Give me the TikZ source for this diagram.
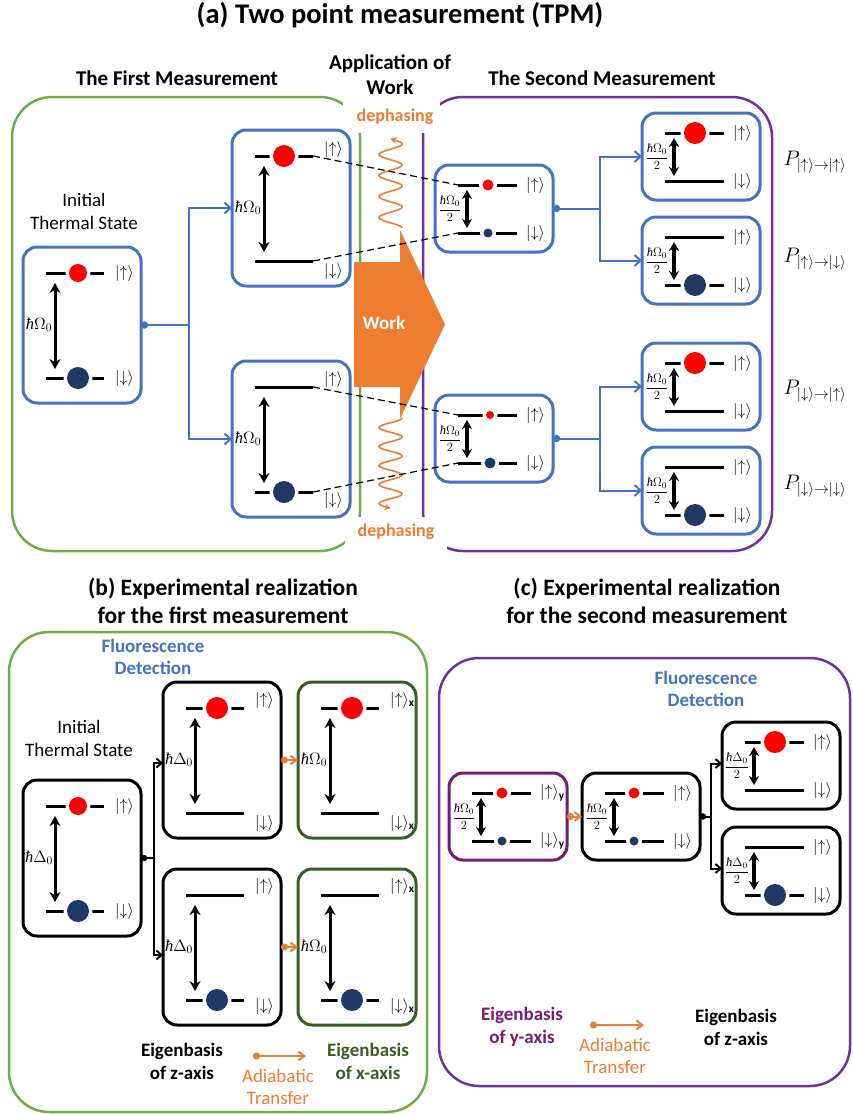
\documentclass[tikz,border=0pt]{standalone}
\usepackage{fix-cm}
\usepackage{amsmath}
\usepackage{fontspec}
\setmainfont{Carlito}
\newfontfamily\hbfont{Liberation Serif}
\usetikzlibrary{arrows.meta,calc}
\definecolor{blueC}{HTML}{4472C4}
\definecolor{greenC}{HTML}{70AD47}
\definecolor{purpleC}{HTML}{7030A0}
\definecolor{orangeC}{HTML}{ED7D31}
\definecolor{dgreenC}{HTML}{3B5D22}
\definecolor{ypurpleC}{HTML}{761B76}
\definecolor{redC}{HTML}{FF0000}
\definecolor{navyC}{HTML}{1F3864}
\tikzset{
  boxbase/.style={line width=3pt, rounded corners=14pt, anchor=north west, outer sep=0pt, inner sep=0pt},
  bbox/.style={boxbase, draw=blueC},
  kbox/.style={boxbase, draw=black},
  gbox/.style={boxbase, draw=dgreenC},
  ybox/.style={boxbase, draw=ypurpleC},
  bigsize/.style={minimum width=118pt, minimum height=156pt},
  smallsize/.style={minimum width=118pt, minimum height=87pt},
  lvl/.style={line width=3pt},
  earr/.style={line width=3pt, {Stealth[length=10pt,width=11pt]}-{Stealth[length=10pt,width=11pt]}},
  earrs/.style={line width=3.2pt, {Stealth[length=9pt,width=10pt]}-{Stealth[length=9pt,width=10pt]}},
  elab/.style={font=\fontsize{16.5}{18}\selectfont, inner sep=0pt},
  flab/.style={font=\fontsize{12.5}{13}\selectfont, inner sep=0pt},
  klab/.style={font=\fontsize{16}{18}\selectfont, inner sep=0pt, anchor=west},
  plab/.style={font=\fontsize{21}{24}\selectfont, inner sep=0pt},
  bconn/.style={draw=blueC, line width=2pt, {Circle[length=7pt]}-{Straight Barb[length=6pt,width=11pt]}},
  kconn/.style={draw=black, line width=2pt, {Circle[length=6pt]}-{Straight Barb[length=5pt,width=9pt]}},
  oconn/.style={draw=orangeC, line width=2pt, {Circle[length=7pt]}-{Straight Barb[length=6pt,width=9pt]}},
  dsh/.style={black, line width=1.2pt, dash pattern=on 7pt off 4pt},
  ttl/.style={font=\fontsize{28.5}{32}\selectfont\bfseries, inner sep=0pt},
  ttlb/.style={font=\fontsize{23.5}{28}\selectfont\bfseries, align=center, inner sep=0pt},
  hd/.style={font=\fontsize{21}{25}\selectfont\bfseries, align=center, inner sep=0pt},
  txt/.style={font=\fontsize{19}{23}\selectfont, align=center, inner sep=0pt},
  fl/.style={font=\fontsize{19}{22}\selectfont\bfseries, text=blueC, align=center, inner sep=0pt},
  kb/.style={font=\fontsize{19}{23}\selectfont\bfseries, align=center, inner sep=0pt},
  gb/.style={kb, text=dgreenC},
  yb/.style={kb, text=ypurpleC},
  otx/.style={font=\fontsize{19}{21.5}\selectfont, text=orangeC, align=center, inner sep=0pt},
  dph/.style={font=\fontsize{18}{20}\selectfont\bfseries, text=orangeC, inner sep=0pt},
}
\newcommand\HB{\text{\hbfont\itshape ħ}}
\newcommand\BigIn[6]{%
  \draw[lvl] (23,26) -- (81,26);
  \draw[lvl] (23,131) -- (81,131);
  \coordinate (#1ul) at (23,26); \coordinate (#1ur) at (81,26);
  \coordinate (#1dl) at (23,131); \coordinate (#1dr) at (81,131);
  \draw[earr] (32,36) -- (32,122);
  \node[elab] (#1e) at (16,78) {#2};
  \node[klab] (#1u) at (92,#5) {#3};
  \node[klab] (#1d) at (92,#6) {#4};
}
\newcommand\SmallIn[4]{%
  \draw[lvl] (23,20) -- (82,20);
  \draw[lvl] (23,68) -- (82,68);
  \coordinate (#1ul) at (23,20); \coordinate (#1ur) at (82,20);
  \coordinate (#1dl) at (23,68); \coordinate (#1dr) at (82,68);
  \draw[earrs] (32,25) -- (32,63);
  \node[flab] (#1e) at (15,44) {#2};
  \node[klab] (#1u) at (91,20) {#3};
  \node[klab] (#1d) at (91,68) {#4};
}
\newcommand\DotAt[4]{%
  \fill[white] (#1,#2) circle[radius=#3+3.5];
  \fill[#4] (#1,#2) circle[radius=#3];
}
\newcommand\KU{$|{\uparrow}\rangle$}
\newcommand\KD{$|{\downarrow}\rangle$}
\newcommand\HO{$\HB\Omega_0$}
\newcommand\HD{$\HB\Delta_0$}
\newcommand\FO{$\dfrac{\HB\Omega_0}{2}$}
\newcommand\FD{$\dfrac{\HB\Delta_0}{2}$}
\begin{document}
\begin{tikzpicture}[x=1pt,y=-1pt]
\useasboundingbox (0,0) rectangle (853,1114);

% ================= (a) =================
\draw[greenC, line width=2.5pt, rounded corners=40pt] (12,97) rectangle (360,551);
\draw[purpleC, line width=2.5pt, rounded corners=40pt] (423,97) rectangle (772,551);
\fill[white] (343,94) rectangle (440,133);
\fill[white] (345,517) rectangle (447,560);
\node[dph] (dph1) at (395,117) {dephasing};
\node[dph] (dph2) at (396,532) {dephasing};

\node[ttl] (tA) at (400,15) {(a) Two point measurement (TPM)};
\node[hd] (hFirst) at (177,78) {The First Measurement};
\node[hd] (hApp) at (390,75) {Application of\\Work};
\node[hd] (hSecond) at (602,78) {The Second Measurement};

\node[txt] (itA) at (84,211) {Initial\\Thermal State};

% boxes
\node[bbox, bigsize] (A0) at (23,247) {};
\node[bbox, bigsize] (A1) at (232,130) {};
\node[bbox, bigsize] (A2) at (232,361) {};
\node[bbox, smallsize] (M1) at (435,165) {};
\node[bbox, smallsize] (M2) at (435,395) {};
\node[bbox, smallsize] (R1) at (642,113) {};
\node[bbox, smallsize] (R2) at (642,217) {};
\node[bbox, smallsize] (R3) at (642,343) {};
\node[bbox, smallsize] (R4) at (642,447) {};

\begin{scope}[shift={(A0.north west)}]
  \BigIn{a0}{\HO}{\KU}{\KD}{26}{131}
  \DotAt{55}{26}{9}{redC}
  \DotAt{55}{131}{11}{navyC}
\end{scope}
\begin{scope}[shift={(A1.north west)}]
  \BigIn{a1}{\HO}{\KU}{\KD}{19}{141}
  \DotAt{52}{26}{11}{redC}
\end{scope}
\begin{scope}[shift={(A2.north west)}]
  \BigIn{a2}{\HO}{\KU}{\KD}{18}{139}
  \DotAt{52}{131}{11}{navyC}
\end{scope}
\begin{scope}[shift={(M1.north west)}]
  \SmallIn{m1}{\FO}{\KU}{\KD}
  \DotAt{53}{20}{5.5}{redC}
  \DotAt{53}{68}{4.5}{navyC}
\end{scope}
\begin{scope}[shift={(M2.north west)}]
  \SmallIn{m2}{\FO}{\KU}{\KD}
  \DotAt{55}{20}{4}{redC}
  \DotAt{55}{68}{5.5}{navyC}
\end{scope}
\begin{scope}[shift={(R1.north west)}]
  \SmallIn{r1}{\FO}{\KU}{\KD}
  \DotAt{53}{20}{11}{redC}
\end{scope}
\begin{scope}[shift={(R2.north west)}]
  \SmallIn{r2}{\FO}{\KU}{\KD}
  \DotAt{53}{68}{11}{navyC}
\end{scope}
\begin{scope}[shift={(R3.north west)}]
  \SmallIn{r3}{\FO}{\KU}{\KD}
  \DotAt{53}{20}{11}{redC}
\end{scope}
\begin{scope}[shift={(R4.north west)}]
  \SmallIn{r4}{\FO}{\KU}{\KD}
  \DotAt{53}{68}{11}{navyC}
\end{scope}

% work arrow
\fill[orangeC] (354,262) -- (400,262) -- (400,230) -- (445,324.5) -- (400,419) -- (400,387) -- (354,387) -- cycle;
\node[font=\fontsize{19}{22}\selectfont\bfseries, text=white, inner sep=0pt] (work) at (384,323) {Work};

% dephasing snakes
\draw[orangeC, line width=1.6pt, -{Stealth[length=6pt,width=7pt]}] plot[domain=0:4.25, samples=150, smooth] ({390.5+11.5*cos(360*\x)}, {228-21*\x});
\draw[orangeC, line width=1.6pt, -{Stealth[length=6pt,width=7pt]}] plot[domain=0:4.75, samples=150, smooth] ({390.5+11.5*cos(360*\x)}, {418+19*\x});

% dashed links
\draw[dsh] (a1ur) -- (m1ul);
\draw[dsh] (a1dr) -- (m1dl);
\draw[dsh] (a2ur) -- (m2ul);
\draw[dsh] (a2dr) -- (m2dl);

% connectors
\draw[bconn] (A0.east) -- ++(48,0) |- (A1.west);
\draw[bconn] (A0.east) -- ++(48,0) |- (A2.west);
\draw[bconn] (M1.east) -- ++(47,0) |- (R1.west);
\draw[bconn] (M1.east) -- ++(47,0) |- (R2.west);
\draw[bconn] (M2.east) -- ++(47,0) |- (R3.west);
\draw[bconn] (M2.east) -- ++(47,0) |- (R4.west);

\node[plab] (p1) at (815,162) {$P_{|{\uparrow}\rangle\to|{\uparrow}\rangle}$};
\node[plab] (p2) at (815,259) {$P_{|{\uparrow}\rangle\to|{\downarrow}\rangle}$};
\node[plab] (p3) at (815,391) {$P_{|{\downarrow}\rangle\to|{\uparrow}\rangle}$};
\node[plab] (p4) at (815,486) {$P_{|{\downarrow}\rangle\to|{\downarrow}\rangle}$};

% ================= (b) =================
\node[ttlb] (tB) at (223,601) {(b) Experimental realization\\for the first measurement};
\draw[greenC, line width=2.5pt, rounded corners=40pt] (9,632) rectangle (427,1112);
\node[fl] (fB) at (153,657) {Fluorescence\\Detection};
\node[txt] (itB) at (79,738) {Initial\\Thermal State};

\node[kbox, bigsize] (B0) at (23,780) {};
\node[kbox, bigsize] (Bz1) at (163,682) {};
\node[gbox, bigsize] (Bx1) at (298,682) {};
\node[kbox, bigsize] (Bz2) at (163,869) {};
\node[gbox, bigsize] (Bx2) at (298,869) {};

\begin{scope}[shift={(B0.north west)}]
  \BigIn{b0}{\HD}{\KU}{\KD}{26}{131}
  \DotAt{55}{26}{9}{redC}
  \DotAt{55}{131}{11}{navyC}
\end{scope}
\begin{scope}[shift={(Bz1.north west)}]
  \BigIn{bz1}{\HD}{\KU}{\KD}{18}{141}
  \DotAt{54}{26}{11}{redC}
\end{scope}
\begin{scope}[shift={(Bx1.north west)}]
  \BigIn{bx1}{\HO}{$|{\uparrow}\rangle_{\mathbf{x}}$}{$|{\downarrow}\rangle_{\mathbf{x}}$}{18}{141}
  \DotAt{54}{26}{11}{redC}
\end{scope}
\begin{scope}[shift={(Bz2.north west)}]
  \BigIn{bz2}{\HD}{\KU}{\KD}{17}{137}
  \DotAt{54}{131}{11}{navyC}
\end{scope}
\begin{scope}[shift={(Bx2.north west)}]
  \BigIn{bx2}{\HO}{$|{\uparrow}\rangle_{\mathbf{x}}$}{$|{\downarrow}\rangle_{\mathbf{x}}$}{17}{137}
  \DotAt{54}{131}{11}{navyC}
\end{scope}

\draw[kconn] (B0.east) -- ++(13,0) |- ([yshift=-3pt]Bz1.west);
\draw[kconn] (B0.east) -- ++(13,0) |- ([yshift=-8pt]Bz2.west);
\draw[oconn] (Bz1.east) -- (Bx1.west);
\draw[oconn] (Bz2.east) -- (Bx2.west);

\node[kb] (ezB) at (182,1061) {Eigenbasis\\of z-axis};
\coordinate (lgB1) at (253,1056);
\coordinate (lgB2) at (306,1056);
\draw[oconn] (lgB1) -- (lgB2);
\node[otx] (atB) at (278,1087) {Adiabatic\\Transfer};
\node[gb] (exB) at (368,1061) {Eigenbasis\\of x-axis};

% ================= (c) =================
\node[ttlb] (tC) at (647,601) {(c) Experimental realization\\for the second measurement};
\draw[purpleC, line width=2.5pt, rounded corners=40pt] (439,658) rectangle (850,1086);
\node[fl] (fC) at (706,689) {Fluorescence\\Detection};

\node[ybox, smallsize] (Cy) at (449,773) {};
\node[kbox, smallsize] (Cz) at (582,773) {};
\node[kbox, smallsize] (Cr1) at (722,722) {};
\node[kbox, smallsize] (Cr2) at (722,827) {};

\begin{scope}[shift={(Cy.north west)}]
  \SmallIn{cy}{\FO}{$|{\uparrow}\rangle_{\mathbf{y}}$}{$|{\downarrow}\rangle_{\mathbf{y}}$}
  \DotAt{53}{20}{5.5}{redC}
  \DotAt{53}{68}{4.5}{navyC}
\end{scope}
\begin{scope}[shift={(Cz.north west)}]
  \SmallIn{cz}{\FO}{\KU}{\KD}
  \DotAt{52}{20}{5.5}{redC}
  \DotAt{52}{68}{4.5}{navyC}
\end{scope}
\begin{scope}[shift={(Cr1.north west)}]
  \SmallIn{cr1}{\FD}{\KU}{\KD}
  \DotAt{53}{20}{11}{redC}
\end{scope}
\begin{scope}[shift={(Cr2.north west)}]
  \SmallIn{cr2}{\FD}{\KU}{\KD}
  \DotAt{53}{68}{11}{navyC}
\end{scope}

\draw[oconn] (Cy.east) -- (Cz.west);
\draw[kconn] (Cz.east) -- ++(11,0) |- ([yshift=2pt]Cr1.west);
\draw[kconn] (Cz.east) -- ++(11,0) |- ([yshift=2pt]Cr2.west);

\node[yb] (eyC) at (522,1027) {Eigenbasis\\of y-axis};
\coordinate (lgC1) at (590,1025);
\coordinate (lgC2) at (644,1025);
\draw[oconn] (lgC1) -- (lgC2);
\node[otx] (atC) at (615,1056) {Adiabatic\\Transfer};
\node[kb] (ezC) at (736,1027) {Eigenbasis\\of z-axis};
\end{tikzpicture}
\end{document}
